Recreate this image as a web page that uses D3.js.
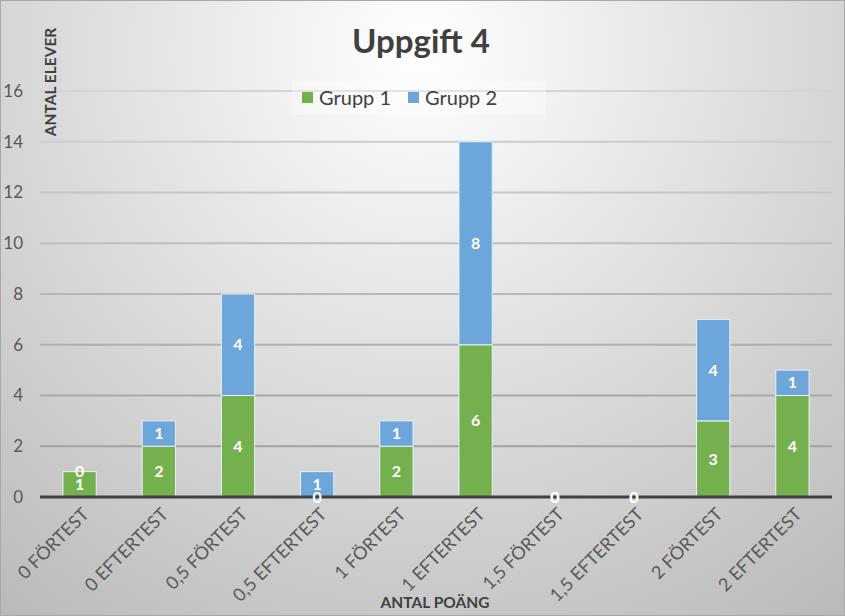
<!DOCTYPE html>
<html lang="sv">
<head>
<meta charset="UTF-8">
<title>Uppgift 4</title>
<script src="https://d3js.org/d3.v7.min.js"></script>
<style>
    body { margin: 0; background: #fff; }
    svg { display: block; font-family: 'Lato', 'Open Sans', sans-serif; }
    .tick-y { font-size: 17px; fill: #595959; }
    .tick-x { font-size: 18px; fill: #595959; }
    .axis-title { font-size: 15.5px; font-weight: bold; fill: #404040; }
    .title { font-size: 33px; font-weight: bold; fill: #404040; }
    .legend-text { font-size: 20px; fill: #404040; }
    .bar-label { font-size: 16px; font-weight: bold; fill: #fff; text-anchor: middle; }
</style>
</head>
<body>
<svg width="845" height="616"></svg>
<script>
const categories = ["0 FÖRTEST", "0 EFTERTEST", "0,5 FÖRTEST", "0,5 EFTERTEST", "1 FÖRTEST",
    "1 EFTERTEST", "1,5 FÖRTEST", "1,5 EFTERTEST", "2 FÖRTEST", "2 EFTERTEST"];
const grupp1 = [1, 2, 4, 0, 2, 6, 0, 0, 3, 4];
const grupp2 = [0, 1, 4, 1, 1, 8, 0, 0, 4, 1];
const seriesNames = ["Grupp 1", "Grupp 2"];
const seriesColors = ["#75b04f", "#6ca6da"];
const yTicks = [0, 2, 4, 6, 8, 10, 12, 14, 16];

const svg = d3.select("svg");
const W = 845, H = 616;
const margin = {top: 91, right: 13, bottom: 119, left: 40};

const defs = svg.append("defs");
const bg = defs.append("radialGradient")
    .attr("id", "bg")
    .attr("gradientUnits", "userSpaceOnUse")
    .attr("cx", 420).attr("cy", 50).attr("r", 720);
bg.append("stop").attr("offset", "0%").attr("stop-color", "#ffffff");
bg.append("stop").attr("offset", "100%").attr("stop-color", "#b8b8b8");

const gridGrad = defs.append("linearGradient")
    .attr("id", "gridGrad")
    .attr("gradientUnits", "userSpaceOnUse")
    .attr("x1", 0).attr("y1", 80).attr("x2", 0).attr("y2", 500);
gridGrad.append("stop").attr("offset", "0%").attr("stop-color", "#d6d6d6");
gridGrad.append("stop").attr("offset", "100%").attr("stop-color", "#9a9a9a");

svg.append("rect")
    .attr("x", 0).attr("y", 0).attr("width", W).attr("height", H)
    .attr("fill", "url(#bg)");
svg.append("rect")
    .attr("x", 0.5).attr("y", 0.5).attr("width", W - 1).attr("height", H - 1)
    .attr("fill", "none").attr("stroke", "#a8a8a8");

const x = d3.scaleBand()
    .domain(categories)
    .range([margin.left, W - margin.right])
    .paddingInner(0.58)
    .paddingOuter(0.29);

const y = d3.scaleLinear()
    .domain([0, 16])
    .range([H - margin.bottom, margin.top]);

// gridlines
svg.append("g")
    .selectAll("line")
    .data(yTicks.filter(d => d > 0))
    .join("line")
    .attr("x1", margin.left).attr("x2", W - margin.right)
    .attr("y1", d => y(d)).attr("y2", d => y(d))
    .attr("stroke", "url(#gridGrad)")
    .attr("stroke-width", 2);

// y tick labels
svg.append("g")
    .selectAll("text")
    .data(yTicks)
    .join("text")
    .attr("class", "tick-y")
    .attr("x", 23)
    .attr("y", d => y(d))
    .attr("dy", "0.35em")
    .attr("text-anchor", "end")
    .text(d => d);

// stacked data
const rows = categories.map((c, i) => ({cat: c, "Grupp 1": grupp1[i], "Grupp 2": grupp2[i]}));
const stack = d3.stack().keys(seriesNames)(rows);

const barGroup = svg.append("g");
stack.forEach((layer, si) => {
    barGroup.append("g")
        .selectAll("rect")
        .data(layer.filter(d => d[1] - d[0] > 0))
        .join("rect")
        .attr("x", d => x(d.data.cat))
        .attr("width", x.bandwidth())
        .attr("y", d => y(d[1]))
        .attr("height", d => y(d[0]) - y(d[1]))
        .attr("fill", seriesColors[si])
        .attr("stroke", "#e8f0f6")
        .attr("stroke-width", 1);
});

// axis line
svg.append("line")
    .attr("x1", margin.left).attr("x2", W - margin.right)
    .attr("y1", y(0)).attr("y2", y(0))
    .attr("stroke", "#404040")
    .attr("stroke-width", 3);

// value labels (Grupp 2 first, then Grupp 1 on top, as in the original)
const labelGroup = svg.append("g");
[1, 0].forEach(si => {
    labelGroup.append("g")
        .selectAll("text")
        .data(stack[si])
        .join("text")
        .attr("class", "bar-label")
        .attr("x", d => x(d.data.cat) + x.bandwidth() / 2)
        .attr("y", d => y((d[0] + d[1]) / 2))
        .attr("dy", "0.35em")
        .text(d => d[1] - d[0]);
});

// x tick labels
svg.append("g")
    .selectAll("text")
    .data(categories)
    .join("text")
    .attr("class", "tick-x")
    .attr("text-anchor", "end")
    .attr("transform", d => `translate(${x(d) + x.bandwidth() / 2 + 6},${y(0) + 14}) rotate(-45)`)
    .attr("dy", "0.35em")
    .text(d => d);

// titles
svg.append("text")
    .attr("class", "title")
    .attr("x", 421).attr("y", 53)
    .attr("text-anchor", "middle")
    .text("Uppgift 4");

svg.append("text")
    .attr("class", "axis-title")
    .attr("text-anchor", "middle")
    .attr("transform", "translate(56,82) rotate(-90)")
    .text("ANTAL ELEVER");

svg.append("text")
    .attr("class", "axis-title")
    .attr("x", 435).attr("y", 608)
    .attr("text-anchor", "middle")
    .text("ANTAL POÄNG");

// legend
const legend = svg.append("g");
legend.append("rect")
    .attr("x", 292).attr("y", 81).attr("width", 254).attr("height", 34)
    .attr("fill", "#ffffff").attr("fill-opacity", 0.35);
const legendX = [302, 408];
seriesNames.forEach((name, i) => {
    legend.append("rect")
        .attr("x", legendX[i]).attr("y", 92)
        .attr("width", 11).attr("height", 11)
        .attr("fill", seriesColors[i]);
    legend.append("text")
        .attr("class", "legend-text")
        .attr("x", legendX[i] + 17).attr("y", 98)
        .attr("dy", "0.35em")
        .text(name);
});
</script>
</body>
</html>
